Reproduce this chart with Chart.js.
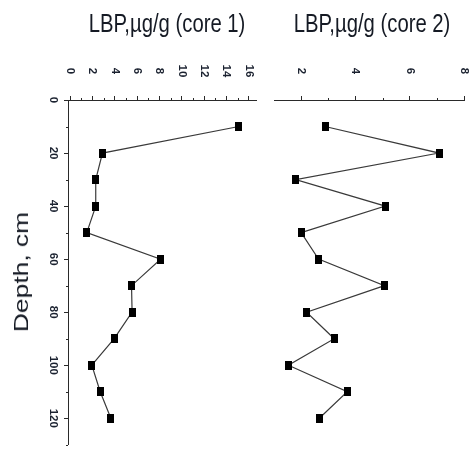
<!DOCTYPE html>
<html>
<head>
<meta charset="utf-8">
<script src="https://cdn.jsdelivr.net/npm/chart.js@4.4.0/dist/chart.umd.min.js"></script>
<style>
  html, body { margin: 0; padding: 0; background: #fff; }
  #wrap { position: relative; width: 474px; height: 450px; overflow: hidden; }
  canvas { position: absolute; top: 0; }
  #c1 { left: 0; }
  #c2 { left: 262px; }
  .title {
    position: absolute; top: 10px; font-family: "Liberation Sans", Arial, sans-serif;
    font-size: 26px; line-height: 26px; color: #151a24; white-space: nowrap;
    transform: translateX(-50%) scaleX(0.78);
  }
  #ytitle {
    position: absolute; left: 21px; top: 272px; font-family: "Liberation Sans", Arial, sans-serif;
    font-size: 20px; line-height: 20px; color: #151a24; white-space: nowrap;
    transform: translate(-50%, -50%) rotate(-90deg) scaleX(1.32);
  }
</style>
</head>
<body>
<div id="wrap">
  <canvas id="c1" width="262" height="450"></canvas>
  <canvas id="c2" width="212" height="450"></canvas>
  <div class="title" style="left:167px">LBP,µg/g (core 1)</div>
  <div class="title" style="left:372px">LBP,µg/g (core 2)</div>
  <div id="ytitle">Depth, cm</div>
</div>
<script>
// depth of each sample, cm
const depths = [10, 20, 30, 40, 50, 60, 70, 80, 90, 100, 110, 120];
// LBP content, µg/g
const core1 = [15.1, 2.9, 2.3, 2.3, 1.5, 8.1, 5.5, 5.55, 3.95, 1.95, 2.7, 3.65];
const core2 = [2.88, 7.08, 1.8, 5.1, 2.0, 2.64, 5.07, 2.2, 3.22, 1.53, 3.7, 2.67];

// tick labels / tick marks
const core1Ticks = [0, 2, 4, 6, 8, 10, 12, 14, 16];
const core1Minor = [1, 3, 5, 7, 9, 11, 13, 15];
const core2Ticks = [2, 4, 6, 8];
const core2Minor = [3, 5, 7];
const depthTicks = [0, 20, 40, 60, 80, 100, 120];
const depthMinor = [10, 30, 50, 70, 90, 110, 130];

const INK = '#2a2a2a';

// slightly tall black rectangle marker
const marker = document.createElement('canvas');
marker.width = 7; marker.height = 9;
const mctx = marker.getContext('2d');
mctx.fillStyle = '#000';
mctx.fillRect(0, 0, 7, 9);

// rotated tick labels and small minor ticks
const axisDecor = {
  id: 'axisDecor',
  afterDraw(chart, args, opts) {
    const ctx = chart.ctx;
    const x = chart.scales.x, y = chart.scales.y;
    const top = chart.chartArea.top, left = chart.chartArea.left;
    ctx.save();
    ctx.strokeStyle = INK;
    ctx.lineWidth = 1;
    ctx.beginPath();
    opts.xMinor.forEach(v => {
      const px = Math.round(x.getPixelForValue(v)) + 0.5;
      ctx.moveTo(px, top); ctx.lineTo(px, top - 2);
    });
    if (opts.yAxis) {
      depthMinor.forEach(v => {
        const py = Math.round(y.getPixelForValue(v)) + 0.5;
        ctx.moveTo(left, py); ctx.lineTo(left - 2, py);
      });
    }
    ctx.stroke();

    ctx.fillStyle = '#1b2230';
    ctx.font = 'bold 11.5px "Liberation Sans", Arial, sans-serif';
    ctx.textAlign = 'center';
    ctx.textBaseline = 'middle';
    opts.xTicks.forEach(v => {
      ctx.save();
      ctx.translate(x.getPixelForValue(v), 71);
      ctx.rotate(Math.PI / 2);
      ctx.fillText(String(v), 0, 0);
      ctx.restore();
    });
    if (opts.yAxis) {
      depthTicks.forEach(v => {
        ctx.save();
        ctx.translate(53, y.getPixelForValue(v));
        ctx.rotate(Math.PI / 2);
        ctx.fillText(String(v), 0, 0);
        ctx.restore();
      });
    }
    ctx.restore();
  }
};

function makeChart(id, values, xMin, xMax, xTicks, xMinor, showY, padding) {
  return new Chart(document.getElementById(id), {
    type: 'scatter',
    data: {
      datasets: [{
        data: depths.map((d, i) => ({ x: values[i], y: d })),
        showLine: true,
        borderColor: '#3a3a3a',
        borderWidth: 1.2,
        pointStyle: marker,
        pointRadius: 4,
        pointHoverRadius: 4
      }]
    },
    options: {
      responsive: false,
      animation: false,
      events: [],
      layout: { padding: padding },
      plugins: {
        legend: { display: false },
        tooltip: { enabled: false },
        axisDecor: { xTicks: xTicks, xMinor: xMinor, yAxis: showY }
      },
      scales: {
        x: {
          type: 'linear',
          position: 'top',
          min: xMin,
          max: xMax,
          afterBuildTicks: s => { s.ticks = xTicks.map(v => ({ value: v })); },
          afterFit: s => { s.height = 100; },
          ticks: { display: false },
          grid: { drawOnChartArea: false, drawTicks: true, tickLength: 4, color: INK },
          border: { display: true, color: INK, width: 1 }
        },
        y: {
          type: 'linear',
          display: showY,
          reverse: true,
          min: 0,
          max: 130,
          afterBuildTicks: s => { s.ticks = depthTicks.map(v => ({ value: v })); },
          afterFit: s => { s.width = showY ? 68 : 0; },
          ticks: { display: false },
          grid: { drawOnChartArea: false, drawTicks: true, tickLength: 4, color: INK },
          border: { display: true, color: INK, width: 1 }
        }
      }
    },
    plugins: [axisDecor]
  });
}

makeChart('c1', core1, -0.18, 16.7, core1Ticks, core1Minor, true, { left: 0, right: 4, top: 0, bottom: 4 });
makeChart('c2', core2, 1, 8, core2Ticks, core2Minor, false, { left: 12, right: 10, top: 0, bottom: 4 });
</script>
</body>
</html>
